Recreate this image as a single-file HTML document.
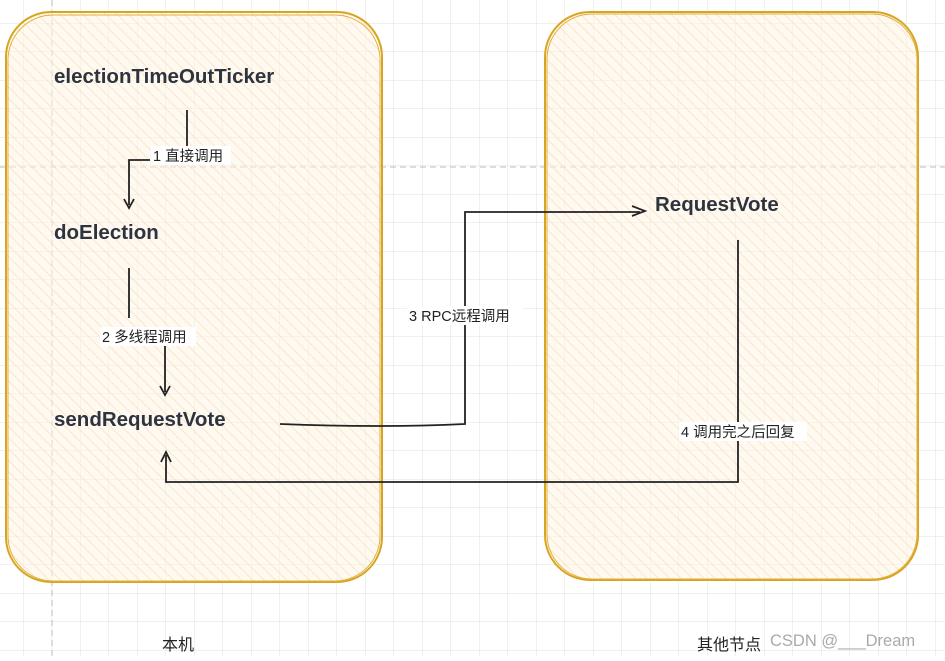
<!DOCTYPE html>
<html><head><meta charset="utf-8"><style>
body{margin:0;width:945px;height:656px;overflow:hidden;background:#fff;font-family:"Liberation Sans","Noto Sans CJK SC",sans-serif}
</style></head><body>
<svg width="945" height="656" xmlns="http://www.w3.org/2000/svg">
<defs>
<pattern id="g" width="28.5" height="28.5" patternUnits="userSpaceOnUse" x="-5" y="-5">
<path d="M28.5 0V28.5H0" fill="none" stroke="#e0e0e0" stroke-width="1"/></pattern>
<pattern id="h" width="8" height="8" patternUnits="userSpaceOnUse" patternTransform="rotate(-45)">
<rect width="8" height="8" fill="rgba(255,245,230,0.55)"/><line x1="0" y1="0" x2="0" y2="8" stroke="rgba(250,215,170,0.6)" stroke-width="2"/></pattern>
</defs>
<rect width="945" height="656" fill="url(#g)"/>
<line x1="52" y1="0" x2="52" y2="656" stroke="#bbb" stroke-dasharray="6,4"/>
<line x1="0" y1="167" x2="945" y2="167" stroke="#bbb" stroke-dasharray="6,4"/>
<rect x="6" y="12" width="376" height="570" rx="45" fill="url(#h)" stroke="#d9a520" stroke-width="2"/>
<rect x="8" y="15" width="372" height="566" rx="45" fill="none" stroke="#e0b040" stroke-width="1"/>
<rect x="545" y="12" width="373" height="568" rx="45" fill="url(#h)" stroke="#d9a520" stroke-width="2"/>
<rect x="547" y="14" width="370" height="565" rx="45" fill="none" stroke="#e0b040" stroke-width="1"/>
<g font-weight="bold" font-size="20.5" fill="#2d3440">
<text x="54" y="83">electionTimeOutTicker</text>
<text x="54" y="239">doElection</text>
<text x="54" y="426">sendRequestVote</text>
<text x="655" y="211">RequestVote</text>
</g>
<g fill="none" stroke="#222" stroke-width="1.8">
<path d="M187 110V156M150 160H129V205"/><path d="M124 199L129 208L134 199"/>
<path d="M129 268V318M165 345V392"/><path d="M160 386L165 395L170 386"/>
<path d="M280 424Q380 428 465 424V212H640"/><path d="M632 206L645 211L632 216"/>
<path d="M738 240V482H166V455"/><path d="M161 462L166 452L171 462"/>
</g>
<g font-size="14.5" fill="#222">
<rect x="151" y="146" width="80" height="19" fill="#fff"/><text x="153" y="161">1 直接调用</text>
<rect x="100" y="327" width="96" height="19" fill="#fff"/><text x="102" y="342">2 多线程调用</text>
<rect x="407" y="306" width="116" height="19" fill="#fff"/><text x="409" y="321">3 RPC远程调用</text>
<rect x="679" y="422" width="128" height="19" fill="#fff"/><text x="681" y="437">4 调用完之后回复</text>
<text x="162" y="650" font-size="16">本机</text>
<text x="697" y="650" font-size="16">其他节点</text>
<text x="770" y="646" font-size="16.5" fill="#aaa">CSDN @___Dream</text>
</g>
</svg>
</body></html>
